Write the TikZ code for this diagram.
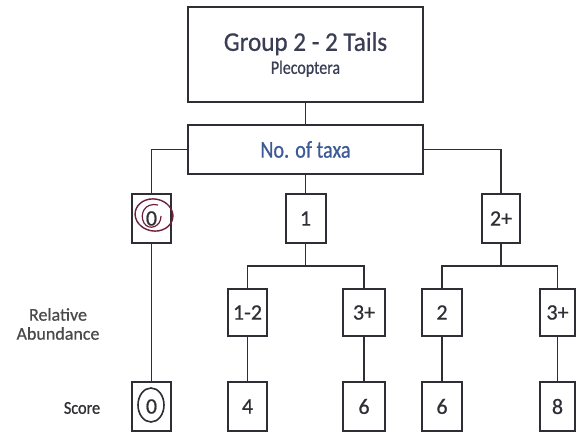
\documentclass[tikz,border=0pt]{standalone}
\usepackage{fontspec}
\setmainfont{Carlito}[FakeBold=0.6]
\newfontfamily\headfont{Carlito}[FakeStretch=0.93,FakeBold=0.6]
\newfontfamily\taxafont{Carlito}[FakeStretch=0.84,FakeBold=0.6]
\newfontfamily\scorefont{Carlito}[FakeStretch=0.9,FakeBold=0.9]
\definecolor{ink}{HTML}{2E2E34}
\definecolor{headink}{HTML}{3A3E55}
\definecolor{taxaink}{HTML}{3C5A96}
\definecolor{labink}{HTML}{4A4A4A}
\definecolor{penred}{HTML}{6E1F3A}
\tikzset{
  box/.style={draw=ink, line width=2pt, inner sep=0pt, fill=white, text=ink, font=\fontsize{22}{22}\selectfont},
  conn/.style={draw=ink, line width=1.8pt},
  sidelab/.style={text=labink, align=center, font=\fontsize{18}{19}\selectfont},
}
\begin{document}
\begin{tikzpicture}[x=1pt,y=-1pt]
\useasboundingbox[fill=white] (0,0) rectangle (578,435);
% top level
\node[box, minimum width=235, minimum height=95, text=headink, align=center] (top) at (305.5,54.5)
  {\headfont\fontsize{27}{28}\selectfont Group 2 - 2 Tails\\[1pt]\taxafont\fontsize{19}{19}\selectfont Plecoptera};
\node[box, minimum width=235, minimum height=49, text=taxaink, font=\taxafont\fontsize{24}{24}\selectfont] (taxa) at (305.5,149.5) {No. of taxa};
% number of taxa
\node[box, minimum width=39, minimum height=49] (b0) at (151.5,218.5) {0};
\node[box, minimum width=40, minimum height=49] (b1) at (305.5,218.5) {1};
\node[box, minimum width=38, minimum height=49] (b2) at (501,218.5) {2+};
% relative abundance
\node[box, minimum width=39, minimum height=47] (c1) at (247.5,312.5) {1-2};
\node[box, minimum width=42, minimum height=47] (c2) at (364,312.5) {3+};
\node[box, minimum width=40, minimum height=47] (c3) at (442,312.5) {2};
\node[box, minimum width=35, minimum height=47] (c4) at (557.5,312.5) {3+};
% scores
\node[box, minimum width=39, minimum height=49] (s0) at (151.5,406.5) {0};
\node[box, minimum width=39, minimum height=49] (s1) at (247.5,406.5) {4};
\node[box, minimum width=42, minimum height=49] (s2) at (364,406.5) {6};
\node[box, minimum width=40, minimum height=49] (s3) at (442,406.5) {6};
\node[box, minimum width=35, minimum height=49] (s4) at (557.5,406.5) {8};
% side labels
\node[sidelab] (ra) at (58,324) {Relative\\Abundance};
\node[sidelab, text=ink, font=\scorefont\fontsize{18}{18}\selectfont] (sc) at (82,408) {Score};
% junctions
\coordinate (j1) at (305.5,266);
\coordinate (j2) at (501,266);
% connectors
\draw[conn] (top) -- (taxa);
\draw[conn] (taxa.west) -| (b0.north);
\draw[conn] (taxa.east) -| (b2.north);
\draw[conn] (taxa) -- (b1);
\draw[conn] (b0) -- (s0);
\draw[conn] (b1) -- (j1);
\draw[conn] (c1.north) |- (j1) -| (c2.north);
\draw[conn] (b2) -- (j2);
\draw[conn] (c3.north) |- (j2) -| (c4.north);
\draw[conn] (c1) -- (s1);
\draw[conn] (c2) -- (s2);
\draw[conn] (c3) -- (s3);
\draw[conn] (c4) -- (s4);
% hand-drawn circles
\draw[penred, line width=1.4pt, rotate around={-10:(154,215)}] (154,215) ellipse [x radius=19, y radius=16];
\draw[penred, line width=1.2pt] (158,205) .. controls (145,202) and (139,214) .. (144,223) .. controls (149,231) and (161,227) .. (161,216);
\draw[ink, line width=1.6pt] (151,405) ellipse [x radius=13, y radius=17];
\end{tikzpicture}
\end{document}
